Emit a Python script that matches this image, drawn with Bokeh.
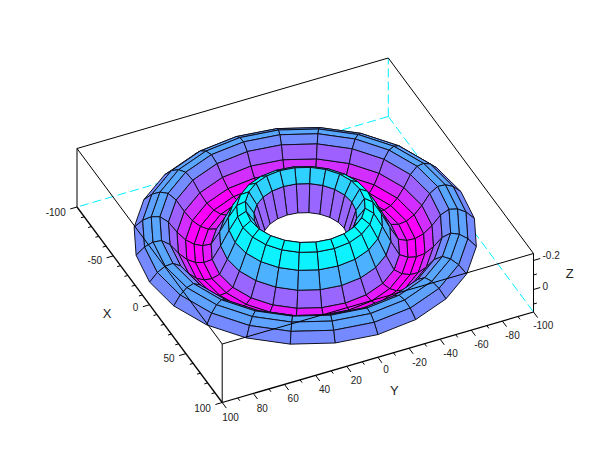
from bokeh.plotting import figure
from bokeh.embed import file_html
from bokeh.resources import INLINE
from bokeh.models import ColumnDataSource
from bokeh.core.properties import value
import math

# ---- data ----
theta_deg = [0, 15, 30, 45, 60, 75, 90, 105, 120, 135, 150, 165,
             180, 195, 210, 225, 240, 255, 270, 285, 300, 315, 330, 345]
ring_r = [100, 95, 90, 85, 80, 75, 70, 65, 60, 55, 50, 45, 40, 35, 30, 25]
ring_z = [0.001, 0.052, 0.079, 0.083, 0.05, -0.016, -0.066, -0.093, -0.1, -0.085,
          0.003, 0.103, 0.19, 0.221, 0.146, -0.017]
# 0 = cyan (highest), 1 = magenta (lowest); one per band between two rings
band_level = [0.46, 0.37, 0.35, 0.45, 0.62, 0.82, 1.0, 1.0, 0.9, 0.6, 0.3, 0.05, 0.0, 0.18, 0.6]

x_ticks = [-100, -50, 0, 50, 100]
y_ticks = [100, 80, 60, 40, 20, 0, -20, -40, -60, -80, -100]
z_ticks = [0.2, 0]
z_labels = ["-0.2", "0"]
x_minor = list(range(-100, 101, 10))
y_minor = list(range(-100, 101, 10))
z_minor = [0.2, 0.1, 0, -0.1]
x_lim = (-100, 100)
y_lim = (-100, 100)
z_lim = (-0.155, 0.248)

# ---- projection of the 3-D box on the page ----
CX, CY = 304.75, 259.0
EX = (0.726, 0.9775)      # page pixels per unit of x
EY = (-1.5565, 0.4525)    # page pixels per unit of y
EZ = 58.5 / (z_lim[1] - z_lim[0])


def proj(x, y, z):
    h = (z - z_lim[0]) * EZ
    return CX + x * EX[0] + y * EY[0], CY + x * EX[1] + y * EY[1] - h


def depth(x, y, z):
    h = (z - z_lim[0]) * EZ
    return (x * EX[1] + y * EY[1]) * 0.723 + 0.469 * h


def level_color(t):
    r, g = int(round(255 * t)), int(round(255 * (1 - t)))
    return f"#{r:02x}{g:02x}ff"


quads = []
n = len(theta_deg)
for b in range(len(ring_r) - 1):
    for a in range(n):
        pts = []
        for ring, ang in ((b, a), (b, (a + 1) % n), (b + 1, (a + 1) % n), (b + 1, a)):
            th = math.radians(theta_deg[ang])
            pts.append((ring_r[ring] * math.cos(th), ring_r[ring] * math.sin(th), ring_z[ring]))
        d = sum(depth(*q) for q in pts) / 4
        sc = [proj(*q) for q in pts]
        quads.append((d, [s[0] for s in sc], [s[1] for s in sc], level_color(band_level[b])))
quads.sort(key=lambda q: q[0])

p = figure(width=594, height=444, x_range=(0, 594), y_range=(444, 0), toolbar_location=None,
           output_backend="svg", min_border=0, x_axis_type=None, y_axis_type=None,
           outline_line_color=None, background_fill_color="white", border_fill_color="white")
p.grid.visible = False

x0, x1 = x_lim
y0, y1 = y_lim
zb, zt = z_lim


def seg(a, b, **kw):
    pa, pb = proj(*a), proj(*b)
    p.line([pa[0], pb[0]], [pa[1], pb[1]], **kw)


# hidden box edges (behind the surface)
CYAN = "#00f0ff"
for a, b in (((x0, y0, zb), (x1, y0, zb)), ((x0, y0, zb), (x0, y1, zb)), ((x0, y0, zb), (x0, y0, zt))):
    seg(a, b, line_color=CYAN, line_width=1, line_dash="9 4")
# back edges at top
seg((x0, y0, zt), (x0, y1, zt), line_color="black", line_width=1)
seg((x0, y0, zt), (x1, y0, zt), line_color="black", line_width=1)

src = ColumnDataSource(dict(xs=[q[1] for q in quads], ys=[q[2] for q in quads], c=[q[3] for q in quads]))
p.patches("xs", "ys", source=src, fill_color="c", line_color="#101020", line_width=1)

# front box edges
for a, b in (((x1, y1, zt), (x0, y1, zt)), ((x1, y1, zt), (x1, y0, zt)),
             ((x1, y1, zb), (x1, y1, zt)), ((x0, y1, zb), (x0, y1, zt)), ((x1, y0, zb), (x1, y0, zt))):
    seg(a, b, line_color="black", line_width=1)
seg((x0, y1, zb), (x1, y1, zb), line_color="black", line_width=1.3)
seg((x1, y1, zb), (x1, y0, zb), line_color="black", line_width=1.3)

# ticks
TICK = 7.0
MINOR = 3.5
UY = math.hypot(*EY)
UX = math.hypot(*EX)
for v in x_minor:
    L = TICK if v in x_ticks else MINOR
    a = proj(v, y1, zb)
    p.line([a[0], a[0] + EY[0] / UY * L], [a[1], a[1] + EY[1] / UY * L], line_color="black", line_width=1)
for v in y_minor:
    L = TICK if v in y_ticks else MINOR
    a = proj(x1, v, zb)
    p.line([a[0], a[0] + EX[0] / UX * L], [a[1], a[1] + EX[1] / UX * L], line_color="black", line_width=1)
for v in z_minor:
    L = TICK if v in z_ticks else MINOR
    a = proj(x1, y0, v)
    p.line([a[0], a[0] - EY[0] / UY * L], [a[1], a[1] - EY[1] / UY * L], line_color="black", line_width=1)

FONT = value("Liberation Sans")
TXT = "#222222"
x_lab_dy = [5.2, 4.6, 2.7, 3.9, 5]
for v, dy in zip(x_ticks, x_lab_dy):
    a = proj(v, y1, zb)
    p.text([a[0] - 11.3], [a[1] + dy], text=[str(v)], text_font=FONT, text_font_size="10px",
           text_align="right", text_baseline="middle", text_color=TXT)
y_lab_dx = [8.3, 8.9, 8.7, 8.9, 9.5, 8.3, 10.5, 10.4, 10.2, 10.1, 9.7]
y_lab_dy = [14.7, 14.3, 13.4, 13.4, 13.5, 11.5, 14, 14, 14.1, 14.1, 13.2]
for v, dx, dy in zip(y_ticks, y_lab_dx, y_lab_dy):
    a = proj(x1, v, zb)
    p.text([a[0] + dx], [a[1] + dy], text=[str(v)], text_font=FONT, text_font_size="10px",
           text_align="center", text_baseline="middle", text_color=TXT)
z_lab_dy = [-5.7, -3.3]
for v, s, dy in zip(z_ticks, z_labels, z_lab_dy):
    a = proj(x1, y0, v)
    p.text([a[0] + 9], [a[1] + dy], text=[s], text_font=FONT, text_font_size="10px",
           text_align="left", text_baseline="middle", text_color=TXT)

# axis names, placed relative to the axes' mid points
xm = proj(0, y1, zb)
ym = proj(x1, 0, zb)
zm = proj(x1, y0, 0)
for (a, dx, dy, s) in ((xm, -42.4, 9, "X"), (ym, 16.6, 33.2, "Y"), (zm, 36.3, -16.3, "Z")):
    p.text([a[0] + dx], [a[1] + dy], text=[s], text_font=FONT, text_font_size="13px",
           text_align="center", text_baseline="middle", text_color=TXT)

open("out.html", "w").write(file_html(p, INLINE))
